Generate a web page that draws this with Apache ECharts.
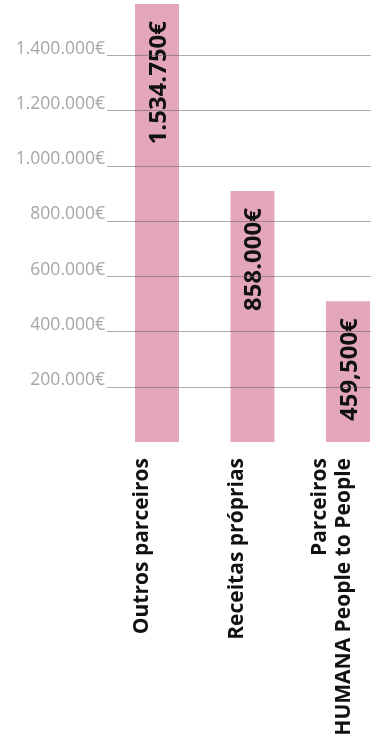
<!DOCTYPE html>
<html>
<head>
<meta charset="utf-8">
<script src="https://cdn.jsdelivr.net/npm/echarts@6/dist/echarts.min.js"></script>
<style>
    html, body { margin: 0; padding: 0; background: #fff; }
    #chart { width: 381px; height: 742px; }
</style>
</head>
<body>
<div id="chart"></div>
<script>
// dados
const categories = ['Outros parceiros', 'Receitas próprias', 'Parceiros\nHUMANA People to People']
const values = [1534750, 858000, 459500]
const valueLabels = ['1.534.750€', '858.000€', '459,500€']
const tickValues = [200000, 400000, 600000, 800000, 1000000, 1200000, 1400000]

// 1400000 -> 1.400.000€
function euro (v) {
    return String(v).replace(/\B(?=(\d{3})+(?!\d))/g, '.') + '€'
}

let myChart = echarts.init(document.getElementById('chart'), null, { renderer: 'canvas' })
myChart.setOption({
    animation: false,
    grid: [
        // linhas de grelha + eixo y
        { left: 107, right: 10, top: 0, bottom: 300, outerBoundsMode: 'none' },
        // barras (a última categoria passa a margem direita)
        { left: 109.25, width: 286.5, top: 0, bottom: 300, outerBoundsMode: 'none' },
        // rótulos das categorias
        { left: 94.5, width: 285, top: 0, bottom: 300, outerBoundsMode: 'none' }
    ],
    xAxis: [
        { gridIndex: 0, type: 'category', data: categories, show: false },
        { gridIndex: 1, type: 'category', data: categories, show: false },
        {
            gridIndex: 2,
            type: 'category',
            data: categories,
            axisLine: { show: false },
            axisTick: { show: false },
            axisLabel: {
                rotate: 90,
                margin: 16,
                interval: 0,
                color: '#111',
                fontFamily: 'Open Sans',
                fontWeight: 'bold',
                fontSize: 21,
                lineHeight: 24
            }
        }
    ],
    yAxis: [
        {
            gridIndex: 0,
            type: 'value',
            min: 0,
            max: 1600000,
            interval: 200000,
            z: 10,
            axisLine: { show: false },
            axisTick: { show: false },
            axisLabel: {
                margin: 2,
                color: '#a6a6a6',
                fontFamily: 'Open Sans',
                fontSize: 17.5,
                verticalAlign: 'bottom',
                lineHeight: 13,
                formatter: function (v) {
                    return tickValues.indexOf(v) >= 0 ? euro(v) : ''
                }
            },
            splitLine: {
                show: true,
                lineStyle: {
                    // linha 0 e linha do topo escondidas
                    color: ['rgba(0,0,0,0)'].concat(tickValues.map(() => 'rgba(90,90,90,0.5)'), ['rgba(0,0,0,0)']),
                    width: 1
                }
            }
        },
        { gridIndex: 1, type: 'value', min: -50000, max: 1549000, startValue: -50000, show: false, splitLine: { show: false } },
        { gridIndex: 2, type: 'value', show: false, splitLine: { show: false } }
    ],
    series: [
        {
            type: 'bar',
            xAxisIndex: 1,
            yAxisIndex: 1,
            data: values,
            barWidth: 44,
            itemStyle: { color: '#e3a7b9' },
            label: {
                show: true,
                position: 'insideTop',
                rotate: 90,
                align: 'right',
                verticalAlign: 'middle',
                distance: 17,
                offset: [0, 2],
                color: '#111',
                fontFamily: 'Open Sans',
                fontWeight: 'bold',
                fontSize: 24,
                formatter: function (p) {
                    return valueLabels[p.dataIndex]
                }
            }
        }
    ]
})
</script>
</body>
</html>
